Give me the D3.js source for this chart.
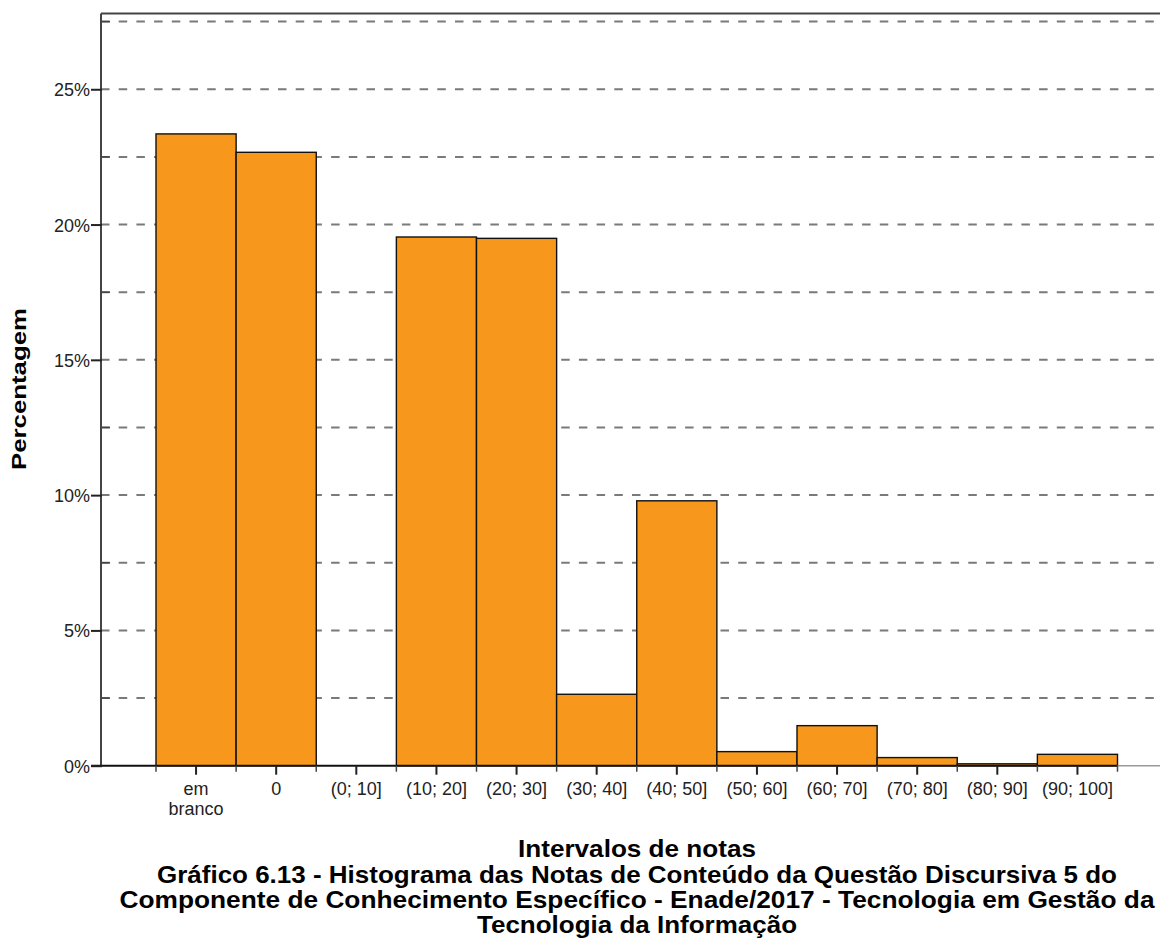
<!DOCTYPE html>
<html>
<head>
<meta charset="utf-8">
<script src="https://cdn.jsdelivr.net/npm/d3@7"></script>
<style>
  html, body { margin: 0; padding: 0; background: #fff; }
  svg { display: block; font-family: Arial, "Liberation Sans", sans-serif; }
</style>
</head>
<body>
<svg id="chart" width="1160" height="938"></svg>
<script>
// Score intervals (categories) and the share of students in each one (%)
const categories = ["em branco", "0", "(0; 10]", "(10; 20]", "(20; 30]", "(30; 40]",
                    "(40; 50]", "(50; 60]", "(60; 70]", "(70; 80]", "(80; 90]", "(90; 100]"];
const percentages = [23.35, 22.67, 0, 19.54, 19.49, 2.64, 9.79, 0.52, 1.48, 0.30, 0.07, 0.42];
const yTickValues = [0, 5, 10, 15, 20, 25];
const gridValues = [2.5, 5, 7.5, 10, 12.5, 15, 17.5, 20, 22.5, 25, 27.5];
const xAxisTitle = "Intervalos de notas";
const yAxisTitle = "Percentagem";
const captionLines = [
  "Gráfico 6.13 - Histograma das Notas de Conteúdo da Questão Discursiva 5 do",
  "Componente de Conhecimento Específico - Enade/2017 - Tecnologia em Gestão da",
  "Tecnologia da Informação"
];

const svg = d3.select("#chart");
const frame = { left: 101, top: 13.5, right: 1166, bottom: 765.7 };

const x = d3.scaleBand().domain(categories).range([156, 1117.5]).padding(0);
const y = d3.scaleLinear().domain([0, 27.8]).range([frame.bottom, frame.top]);

// dashed reference lines every 2.5%
svg.append("g").selectAll("line").data(gridValues).join("line")
  .attr("x1", frame.left).attr("x2", frame.right)
  .attr("y1", d => y(d)).attr("y2", d => y(d))
  .attr("stroke", "#7a7a7a").attr("stroke-width", 2)
  .attr("stroke-dasharray", "8.5,9.2");

// bars
svg.append("g").selectAll("rect").data(categories).join("rect")
  .attr("x", d => x(d))
  .attr("width", x.bandwidth())
  .attr("y", (d, i) => y(percentages[i]))
  .attr("height", (d, i) => y(0) - y(percentages[i]))
  .attr("fill", "#f7981d")
  .attr("stroke", "#111").attr("stroke-width", 1.4);

// plot frame: top border and left axis
svg.append("line").attr("x1", frame.left).attr("x2", frame.right)
  .attr("y1", frame.top).attr("y2", frame.top)
  .attr("stroke", "#444").attr("stroke-width", 2);
svg.append("line").attr("x1", frame.left).attr("x2", frame.left)
  .attr("y1", frame.top).attr("y2", frame.bottom)
  .attr("stroke", "#444").attr("stroke-width", 2);

// x baseline
svg.append("line").attr("x1", frame.left - 10).attr("x2", x.range()[1])
  .attr("y1", frame.bottom).attr("y2", frame.bottom)
  .attr("stroke", "#111").attr("stroke-width", 2);
svg.append("line").attr("x1", x.range()[1]).attr("x2", frame.right)
  .attr("y1", frame.bottom).attr("y2", frame.bottom)
  .attr("stroke", "#999").attr("stroke-width", 1.5);

// y axis: major ticks with labels, minor ticks inward
const yAxis = d3.axisLeft(y).tickValues(yTickValues).tickSize(10).tickPadding(3)
  .tickFormat(d => d + "%");
const gy = svg.append("g").attr("transform", `translate(${frame.left + 3},0)`).call(yAxis);
gy.select(".domain").remove();
gy.selectAll(".tick line").attr("x1", -2).attr("x2", -13).attr("stroke", "#222").attr("stroke-width", 2);
gy.selectAll(".tick text").attr("font-size", 18).attr("fill", "#222").attr("x", -14).attr("dy", "0.36em");

svg.append("g").selectAll("line").data(gridValues.filter(v => v % 5 !== 0)).join("line")
  .attr("x1", frame.left).attr("x2", frame.left + 9)
  .attr("y1", d => y(d)).attr("y2", d => y(d))
  .attr("stroke", "#444").attr("stroke-width", 1.5);

// x axis: major ticks at category centres, minor ticks at bin edges
const gx = svg.append("g").attr("transform", `translate(0,${frame.bottom})`)
  .call(d3.axisBottom(x).tickSize(9).tickPadding(4).tickFormat(""));
gx.select(".domain").remove();
gx.selectAll(".tick line").attr("stroke", "#222").attr("stroke-width", 2);

const edges = categories.map(c => x(c)).concat([x.range()[1]]);
svg.append("g").selectAll("line").data(edges).join("line")
  .attr("x1", d => d).attr("x2", d => d)
  .attr("y1", frame.bottom).attr("y2", frame.bottom + 6)
  .attr("stroke", "#444").attr("stroke-width", 1.5);

// category labels (the blank-answer label wraps onto two lines)
const labels = svg.append("g").attr("font-size", 18).attr("fill", "#222").attr("text-anchor", "middle");
categories.forEach(c => {
  const words = c === "em branco" ? ["em", "branco"] : [c];
  words.forEach((w, k) => {
    labels.append("text")
      .attr("x", x(c) + x.bandwidth() / 2)
      .attr("y", 795 + k * 20)
      .text(w);
  });
});

// axis titles
svg.append("text")
  .attr("transform", "translate(26,389) rotate(-90)")
  .attr("text-anchor", "middle")
  .attr("font-size", 21).attr("font-weight", "bold").attr("fill", "#000")
  .attr("textLength", 162).attr("lengthAdjust", "spacingAndGlyphs")
  .text(yAxisTitle);

svg.append("text")
  .attr("x", 637).attr("y", 857)
  .attr("text-anchor", "middle")
  .attr("font-size", 24).attr("font-weight", "bold").attr("fill", "#000")
  .attr("textLength", 238).attr("lengthAdjust", "spacingAndGlyphs")
  .text(xAxisTitle);

// figure caption
const captionWidths = [960, 1035, 320];
captionLines.forEach((line, i) => {
  svg.append("text")
    .attr("x", 637).attr("y", 883 + i * 25)
    .attr("text-anchor", "middle")
    .attr("font-size", 24).attr("font-weight", "bold").attr("fill", "#000")
    .attr("textLength", captionWidths[i]).attr("lengthAdjust", "spacingAndGlyphs")
    .text(line);
});
</script>
</body>
</html>
